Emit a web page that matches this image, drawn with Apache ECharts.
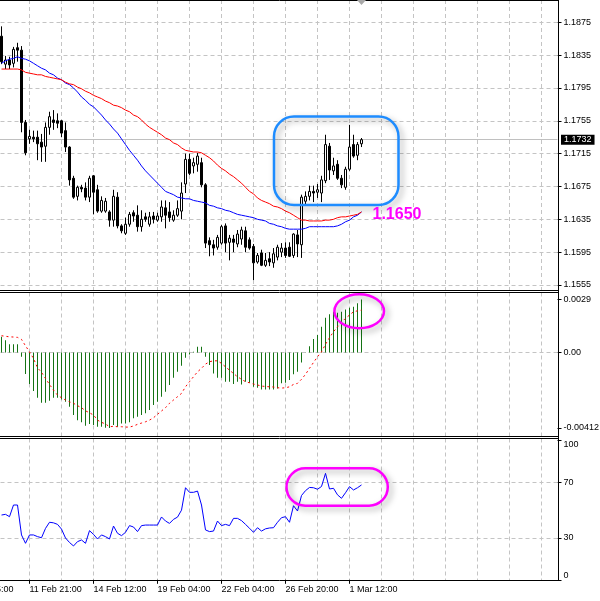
<!DOCTYPE html>
<html><head><meta charset="utf-8">
<script src="https://cdn.jsdelivr.net/npm/echarts@6/dist/echarts.min.js"></script>
<style>html,body{margin:0;padding:0;background:#fff}#c{width:600px;height:601px}</style>
</head><body><div id="c"></div><script>
// ---------- data (H4 bars) ----------
const openP = [1.1858,1.1824,1.1829,1.1825,1.1844,1.1841,1.1753,1.1733,1.1735,1.1735,
1.1729,1.1724,1.1747,1.1756,1.1755,1.1755,1.1743,1.1723,1.1685,1.1663,
1.1674,1.1673,1.1662,1.1688,1.1671,1.1645,1.1645,1.1644,1.1634,1.1662,
1.1627,1.1618,1.1629,1.1643,1.1640,1.1626,1.1638,1.1629,1.1639,1.1634,
1.1638,1.1649,1.1644,1.1634,1.1640,1.1645,1.1678,1.1708,1.1700,1.1702,
1.1704,1.1677,1.1609,1.1604,1.1601,1.1606,1.1627,1.1607,1.1611,1.1605,
1.1611,1.1621,1.1610,1.1602,1.1583,1.1594,1.1579,1.1587,1.1582,1.1589,
1.1595,1.1600,1.1601,1.1591,1.1616,1.1604,1.1657,1.1663,1.1669,1.1668,
1.1667,1.1682,1.1724,1.1694,1.1702,1.1685,1.1674,1.1696,1.1726,1.1713,
1.1727];
const closeP = [1.1827,1.1829,1.1823,1.1842,1.1841,1.1753,1.1716,1.1736,1.1733,1.1727,
1.1723,1.1747,1.1760,1.1753,1.1752,1.1740,1.1723,1.1683,1.1662,1.1674,
1.1672,1.1662,1.1685,1.1668,1.1645,1.1658,1.1657,1.1634,1.1663,1.1627,
1.1621,1.1629,1.1641,1.1639,1.1626,1.1635,1.1635,1.1638,1.1635,1.1639,
1.1650,1.1640,1.1637,1.1640,1.1648,1.1667,1.1708,1.1691,1.1704,1.1712,
1.1677,1.1606,1.1604,1.1600,1.1613,1.1626,1.1606,1.1612,1.1607,1.1617,
1.1622,1.1601,1.1600,1.1582,1.1591,1.1579,1.1585,1.1583,1.1593,1.1601,
1.1600,1.1591,1.1590,1.1617,1.1605,1.1662,1.1663,1.1669,1.1667,1.1671,
1.1683,1.1726,1.1695,1.1700,1.1685,1.1677,1.1696,1.1723,1.1712,1.1726,
1.1732];
const highP = [1.1870,1.1834,1.1833,1.1845,1.1850,1.1846,1.1756,1.1744,1.1743,1.1743,
1.1739,1.1753,1.1766,1.1768,1.1764,1.1756,1.1753,1.1724,1.1688,1.1676,
1.1677,1.1680,1.1688,1.1689,1.1677,1.1663,1.1661,1.1646,1.1671,1.1668,
1.1629,1.1637,1.1644,1.1646,1.1652,1.1646,1.1643,1.1644,1.1644,1.1643,
1.1658,1.1658,1.1656,1.1646,1.1658,1.1680,1.1715,1.1715,1.1710,1.1716,
1.1710,1.1679,1.1613,1.1610,1.1616,1.1628,1.1630,1.1616,1.1616,1.1622,
1.1626,1.1626,1.1613,1.1605,1.1594,1.1598,1.1594,1.1595,1.1600,1.1604,
1.1606,1.1607,1.1607,1.1618,1.1622,1.1665,1.1669,1.1676,1.1676,1.1678,
1.1688,1.1738,1.1728,1.1710,1.1707,1.1689,1.1699,1.1750,1.1738,1.1729,
1.1734];
const lowP = [1.1824,1.1818,1.1818,1.1820,1.1827,1.1741,1.1713,1.1727,1.1729,1.1707,
1.1705,1.1705,1.1738,1.1744,1.1746,1.1735,1.1717,1.1676,1.1660,1.1658,
1.1668,1.1658,1.1656,1.1641,1.1643,1.1643,1.1643,1.1626,1.1626,1.1624,
1.1618,1.1616,1.1626,1.1632,1.1620,1.1620,1.1632,1.1626,1.1630,1.1632,
1.1632,1.1624,1.1632,1.1632,1.1638,1.1635,1.1667,1.1689,1.1691,1.1693,
1.1674,1.1600,1.1590,1.1591,1.1598,1.1604,1.1595,1.1585,1.1595,1.1601,
1.1604,1.1595,1.1598,1.1561,1.1581,1.1578,1.1577,1.1578,1.1576,1.1585,
1.1589,1.1588,1.1589,1.1588,1.1589,1.1588,1.1652,1.1658,1.1656,1.1661,
1.1656,1.1679,1.1683,1.1689,1.1683,1.1673,1.1671,1.1694,1.1710,1.1707,
1.1723];
const maFast = [1.1825,1.1828,1.1830,1.1831,1.1833,1.1831,1.1830,1.1828,1.1825,1.1822,
1.1819,1.1817,1.1813,1.1811,1.1807,1.1805,1.1801,1.1799,1.1795,1.1790,
1.1784,1.1780,1.1775,1.1772,1.1767,1.1762,1.1756,1.1751,1.1745,1.1740,
1.1733,1.1726,1.1719,1.1713,1.1707,1.1700,1.1694,1.1689,1.1684,1.1679,
1.1674,1.1669,1.1667,1.1665,1.1662,1.1661,1.1660,1.1660,1.1658,1.1657,
1.1656,1.1655,1.1652,1.1651,1.1649,1.1648,1.1646,1.1645,1.1643,1.1641,
1.1640,1.1639,1.1638,1.1637,1.1635,1.1634,1.1633,1.1630,1.1629,1.1627,
1.1626,1.1624,1.1623,1.1623,1.1623,1.1623,1.1624,1.1626,1.1626,1.1626,
1.1626,1.1626,1.1626,1.1626,1.1627,1.1629,1.1632,1.1634,1.1638,1.1640,
1.1644];
const maSlow = [1.1818,1.1818,1.1818,1.1818,1.1818,1.1817,1.1814,1.1813,1.1812,1.1811,
1.1811,1.1809,1.1808,1.1807,1.1806,1.1805,1.1802,1.1800,1.1799,1.1796,
1.1794,1.1791,1.1789,1.1786,1.1784,1.1782,1.1779,1.1777,1.1774,1.1773,
1.1771,1.1768,1.1766,1.1762,1.1760,1.1756,1.1751,1.1747,1.1744,1.1741,
1.1738,1.1734,1.1732,1.1728,1.1726,1.1722,1.1719,1.1718,1.1717,1.1717,
1.1716,1.1713,1.1710,1.1706,1.1701,1.1697,1.1694,1.1690,1.1687,1.1683,
1.1679,1.1674,1.1669,1.1666,1.1661,1.1658,1.1656,1.1654,1.1651,1.1650,
1.1648,1.1645,1.1643,1.1640,1.1637,1.1634,1.1634,1.1633,1.1633,1.1633,
1.1633,1.1634,1.1634,1.1635,1.1637,1.1638,1.1638,1.1639,1.1640,1.1641,
1.1644];
const macdMain = [0.00086,0.00068,0.00046,0.00046,0.00046,-0.00023,-0.00117,-0.00172,-0.0021,-0.00247,
-0.00274,-0.00274,-0.00263,-0.00247,-0.00247,-0.00256,-0.00269,-0.00296,-0.00341,-0.00369,
-0.00381,-0.004,-0.0039,-0.00396,-0.00405,-0.00405,-0.0041,-0.00412,-0.00396,-0.00405,
-0.00387,-0.00387,-0.00381,-0.00359,-0.0035,-0.00341,-0.00332,-0.00314,-0.00287,-0.00269,
-0.00241,-0.00214,-0.00177,-0.00138,-0.00105,-0.00072,-0.00028,-0.0001,0.00005,0.00032,
0.00032,-0.00023,-0.00068,-0.00114,-0.00137,-0.00137,-0.00159,-0.00159,-0.00172,-0.00159,
-0.00174,-0.00159,-0.00165,-0.00187,-0.00192,-0.00201,-0.00201,-0.00201,-0.00201,-0.00196,
-0.00168,-0.00165,-0.0015,-0.00119,-0.00105,-0.00054,0.00002,0.00035,0.00074,0.00096,
0.00141,0.0019,0.0021,0.00223,0.00217,0.00223,0.00236,0.00245,0.0025,0.00269,
0.0029];
const macdSignal = [0.00092,0.00089,0.00086,0.00085,0.00083,0.00072,0.00037,0.00004,-0.00032,-0.00083,
-0.00108,-0.00141,-0.00174,-0.00205,-0.00232,-0.00247,-0.00259,-0.00269,-0.00277,-0.0029,
-0.00301,-0.00318,-0.00329,-0.00341,-0.00369,-0.00381,-0.0039,-0.00405,-0.00403,-0.00405,
-0.00405,-0.00407,-0.00407,-0.00401,-0.00392,-0.00385,-0.00378,-0.00369,-0.00356,-0.00337,
-0.00319,-0.00301,-0.00277,-0.00259,-0.00241,-0.00223,-0.00187,-0.00159,-0.00132,-0.00105,
-0.00086,-0.00063,-0.0005,-0.00045,-0.00045,-0.00059,-0.00078,-0.00096,-0.00114,-0.00132,
-0.00146,-0.00159,-0.00165,-0.00172,-0.00177,-0.00183,-0.00185,-0.00187,-0.00188,-0.00192,
-0.00194,-0.00192,-0.00187,-0.00174,-0.00168,-0.00146,-0.00119,-0.00086,-0.00054,-0.00023,
0.00004,0.00045,0.00081,0.00114,0.00141,0.00165,0.00187,0.00205,0.00223,0.00228,
0.00232];
const rsiValues = [46.5,47.0,45.3,53.7,53.7,32.2,26.2,32.2,32.2,31.0,
30.2,36.9,41.3,40.9,39.8,36.4,30.0,26.8,24.3,27.4,
28.6,26.2,35.3,32.6,29.3,32.2,31.0,29.3,38.6,33.4,
31.7,34.1,38.9,37.9,34.6,38.9,39.3,39.3,39.3,39.3,
45.1,42.2,40.5,43.4,45.0,50.0,66.1,62.8,62.8,63.7,
53.7,35.8,34.6,35.0,42.2,38.9,39.8,38.9,44.1,44.1,
42.5,39.8,37.0,34.1,37.4,35.0,36.6,37.2,37.4,41.3,
44.6,45.3,41.3,53.2,49.4,60.5,64.0,66.3,66.1,65.0,
67.0,76.4,65.2,65.7,61.0,58.5,62.5,66.9,64.5,66.1,
68.1];
const priceTicks = [1.1555,1.1595,1.1635,1.1675,1.1715,1.1755,1.1795,1.1835,1.1875];
const macdTicks = [-0.00412, 0, 0.0029];
const rsiTicks = [0, 30, 70, 100];
const rsiLevels = [30, 70];
const timeLabels = ['9 Feb 05:00','11 Feb 21:00','14 Feb 12:00','19 Feb 04:00','22 Feb 04:00','26 Feb 20:00','1 Mar 12:00'];
const timeLabelBars = [-9, 7, 23, 39, 55, 71, 87];
const annotationText = '1.1650';

// ---------- build ----------
const PAD = 16, NCAT = 156;
const cats = [], labelAt = {};
for (let i = 0; i < NCAT; i++) cats.push('c' + i);
timeLabelBars.forEach((b, k) => { labelAt[b + PAD] = timeLabels[k]; });
const isGrid = idx => ((idx - PAD - 7) % 8 + 8) % 8 === 0;
const candles = openP.map((o, i) => [i + PAD, o, closeP[i], lowP[i], highP[i]]);
const xy = arr => arr.map((v, i) => [i + PAD, v]);
const FONT = '"Liberation Sans", Arial, sans-serif';
const gridDash = {color: '#c4c4c4', type: [4, 3], width: 1};

const gridL = -62.5, gridR = 42.5;
function xAxis(gi, bottom) {
  return {
    type: 'category', gridIndex: gi, data: cats, boundaryGap: false,
    axisLine: {show: false},
    axisTick: bottom ? {show: true, interval: idx => labelAt[idx] !== undefined, length: 4, lineStyle: {color: '#000'}} : {show: false},
    axisLabel: bottom ? {show: true, interval: idx => labelAt[idx] !== undefined,
      formatter: (v, idx) => labelAt[idx] || '', align: 'left', margin: 5,
      fontSize: 9, color: '#000', fontFamily: FONT} : {show: false},
    splitLine: {show: true, interval: idx => isGrid(idx), lineStyle: gridDash}
  };
}
const yLab = {fontSize: 9, color: '#000', fontFamily: FONT, margin: 6};

const option = {
  animation: false,
  backgroundColor: '#fff',
  textStyle: {fontFamily: FONT},
  grid: [
    {left: gridL, right: gridR, top: 0, height: 290.5, outerBoundsMode: 'none'},
    {left: gridL, right: gridR, top: 292.5, height: 144, outerBoundsMode: 'none'},
    {left: gridL, right: gridR, top: 438.5, height: 142, outerBoundsMode: 'none'}
  ],
  xAxis: [xAxis(0, false), xAxis(1, false), xAxis(2, true)],
  yAxis: [
    {type: 'value', gridIndex: 0, position: 'right', min: 1.15483, max: 1.19021,
      axisLine: {show: false}, splitLine: {show: false},
      axisTick: {show: true, length: 4, customValues: priceTicks, lineStyle: {color: '#000'}},
      axisLabel: Object.assign({customValues: priceTicks, formatter: v => v.toFixed(4)}, yLab)},
    {type: 'value', gridIndex: 1, position: 'right', min: -0.004584, max: 0.003282,
      axisLine: {show: false}, splitLine: {show: false},
      axisTick: {show: true, length: 4, customValues: macdTicks, lineStyle: {color: '#000'}},
      axisLabel: Object.assign({customValues: macdTicks, formatter: v => v === 0 ? '0.00' : String(v)}, yLab)},
    {type: 'value', gridIndex: 2, position: 'right', min: -0.5, max: 101.44,
      axisLine: {show: false}, splitLine: {show: false},
      axisTick: {show: true, length: 4, customValues: rsiTicks, lineStyle: {color: '#000'}},
      axisLabel: Object.assign({customValues: rsiTicks,
        formatter: v => v === 100 ? '{t|100}' : (v === 0 ? '{b|0}' : String(v)),
        rich: {t: {fontSize: 9, color: '#000', fontFamily: FONT, padding: [9, 0, 0, 0]},
               b: {fontSize: 9, color: '#000', fontFamily: FONT, padding: [0, 0, 9, 0]}}}, yLab)}
  ],
  series: [
    {type: 'candlestick', name: 'EURUSD', xAxisIndex: 0, yAxisIndex: 0, data: candles,
      encode: {x: 0, y: [1, 2, 3, 4]}, barWidth: 3,
      itemStyle: {color: '#fff', color0: '#000', borderColor: '#000', borderColor0: '#000', borderWidth: 1},
      markLine: {z: 1, silent: true, symbol: ['none', 'none'], precision: 5, animation: false,
        label: {show: false},
        data: priceTicks.map(v => ({yAxis: v, lineStyle: gridDash})).concat([{
          yAxis: closeP[closeP.length - 1],
          lineStyle: {color: '#c0c0c0', type: 'solid', width: 1},
          label: {show: true, position: 'end', distance: 3.5, formatter: p => Number(p.value).toFixed(4),
            backgroundColor: '#000', color: '#fff', fontSize: 9, fontFamily: FONT,
            lineHeight: 10, padding: [0, 3, 0, 3]}
        }])}
    },
    {type: 'line', name: 'MA fast', xAxisIndex: 0, yAxisIndex: 0, data: xy(maFast), showSymbol: false,
      lineStyle: {color: '#0000ff', width: 1}, z: 3},
    {type: 'line', name: 'MA slow', xAxisIndex: 0, yAxisIndex: 0, data: xy(maSlow), showSymbol: false,
      lineStyle: {color: '#ff0000', width: 1}, z: 3},
    {type: 'bar', name: 'MACD', xAxisIndex: 1, yAxisIndex: 1, data: xy(macdMain), barWidth: 1,
      itemStyle: {color: '#147314'},
      markLine: {z: 1, silent: true, symbol: ['none', 'none'], precision: 6, label: {show: false},
        data: [{yAxis: 0, lineStyle: gridDash}]}},
    {type: 'line', name: 'Signal', xAxisIndex: 1, yAxisIndex: 1, data: xy(macdSignal), showSymbol: false,
      lineStyle: {color: '#ff0000', width: 1, type: [2, 3]}, z: 3},
    {type: 'line', name: 'RSI', xAxisIndex: 2, yAxisIndex: 2, data: xy(rsiValues), showSymbol: false,
      lineStyle: {color: '#0000ff', width: 1}, z: 3,
      markLine: {z: 1, silent: true, symbol: ['none', 'none'], precision: 2, label: {show: false},
        data: rsiLevels.map(v => ({yAxis: v, lineStyle: gridDash}))}}
  ],
  graphic: [
    {type: 'line', shape: {x1: 0, y1: 0.5, x2: 559, y2: 0.5}, style: {stroke: '#000', lineWidth: 1}, z: 10},
    {type: 'line', shape: {x1: 0, y1: 290.5, x2: 559, y2: 290.5}, style: {stroke: '#000', lineWidth: 1}, z: 10},
    {type: 'line', shape: {x1: 0, y1: 292.5, x2: 559, y2: 292.5}, style: {stroke: '#000', lineWidth: 1}, z: 10},
    {type: 'line', shape: {x1: 0, y1: 436.5, x2: 559, y2: 436.5}, style: {stroke: '#000', lineWidth: 1}, z: 10},
    {type: 'line', shape: {x1: 0, y1: 438.5, x2: 559, y2: 438.5}, style: {stroke: '#000', lineWidth: 1}, z: 10},
    {type: 'line', shape: {x1: 0, y1: 580.5, x2: 559, y2: 580.5}, style: {stroke: '#000', lineWidth: 1}, z: 10},
    {type: 'line', shape: {x1: 558.5, y1: 0, x2: 558.5, y2: 581}, style: {stroke: '#000', lineWidth: 1}, z: 10},
    {type: 'polygon', shape: {points: [[357, 0], [366, 0], [361.5, 5]]}, style: {fill: '#a8a8a8'}, z: 10},
    {type: 'rect', shape: {x: 274, y: 116.5, width: 124.5, height: 88.5, r: 20},
      style: {fill: 'none', stroke: '#1e8cff', lineWidth: 2.5, shadowBlur: 6, shadowColor: 'rgba(0,0,0,0.35)', shadowOffsetX: 3, shadowOffsetY: 3}, z: 20},
    {type: 'text', style: {x: 372.5, y: 215, text: annotationText, fill: '#ff00ff', fontSize: 16, fontWeight: 'bold',
      fontFamily: FONT, verticalAlign: 'middle', align: 'left'}, z: 20},
    {type: 'ellipse', shape: {cx: 359.2, cy: 311.3, rx: 24.8, ry: 17},
      style: {fill: 'none', stroke: '#ff00ff', lineWidth: 2.5, shadowBlur: 6, shadowColor: 'rgba(0,0,0,0.35)', shadowOffsetX: 3, shadowOffsetY: 3}, z: 20},
    {type: 'rect', shape: {x: 286.5, y: 468.3, width: 101.3, height: 37.4, r: 18.7},
      style: {fill: 'none', stroke: '#ff00ff', lineWidth: 2.5, shadowBlur: 6, shadowColor: 'rgba(0,0,0,0.35)', shadowOffsetX: 3, shadowOffsetY: 3}, z: 20}
  ]
};
const chart = echarts.init(document.getElementById('c'), null, {renderer: 'canvas'});
chart.setOption(option);
</script></body></html>
